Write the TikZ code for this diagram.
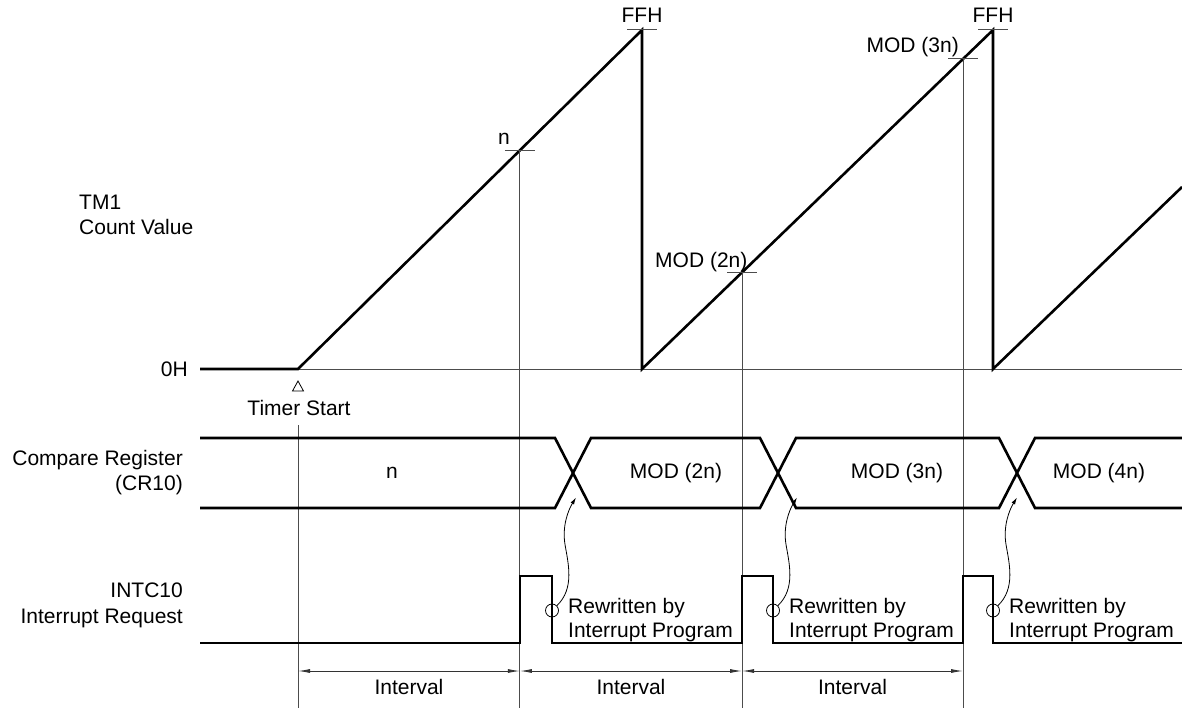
\documentclass[tikz,border=0pt]{standalone}
\usepackage{fontspec}
\setmainfont{Liberation Sans}
\usetikzlibrary{arrows.meta,calc}
\begin{document}
\begin{tikzpicture}[x=1pt,y=-1pt,
  sig/.style={line width=2.6pt, line join=miter, black},
  guide/.style={line width=0.9pt, black!70},
  tickmark/.style={line width=1pt, black!70},
  lbl/.style={font=\fontsize{21}{25}\selectfont, inner sep=0pt},
  dimline/.style={line width=0.9pt, black!80, {Latex[length=12pt,width=4pt]}-{Latex[length=12pt,width=4pt]}},
  wavy/.style={line width=0.8pt, black, -{Latex[length=7pt,width=4pt]}},
  ring/.style={circle, draw, line width=0.8pt, minimum size=13pt, inner sep=0pt}]
\useasboundingbox (0,0) rectangle (1182,711);
% key coordinates
\coordinate (s0) at (200,369);
\coordinate (t0) at (298,369);
\coordinate (p1) at (642,30);
\coordinate (b1) at (642,369);
\coordinate (p2) at (993,30);
\coordinate (b2) at (993,369);
\coordinate (e3) at (1182,187);
\coordinate (bend) at (1182,369);
\coordinate (bot) at (0,708);
\coordinate (kn) at ($(t0)!0.645!(p1)$);
\coordinate (k2) at ($(b1)!0.285!(p2)$);
\coordinate (k3) at ($(b1)!0.9145!(p2)$);
% baseline (thin) and count value (thick)
\draw[guide] (t0) -- (bend);
\draw[sig] (s0) -- (t0) -- (p1) -- (b1) -- (p2) -- (b2) -- (e3);
% ticks
\foreach \k in {kn,k2,k3,p1,p2}{
  \draw[tickmark] ($(\k)+(-15,0)$) -- ($(\k)+(15,0)$);
}
\foreach \k in {kn,k2,k3}{
  \draw[guide] (\k) -- (\k |- bot);
}
% timer start
\draw[line width=0.8pt] (298,381) -- (292.5,391) -- (303.5,391) -- cycle;
\node[lbl, anchor=base] (ts) at (299,415) {Timer Start};
\coordinate (tsb) at (298,425);
\draw[guide] (tsb) -- (tsb |- bot);
% value labels
\node[lbl, anchor=base] (lffh1) at (642,23) {FFH};
\node[lbl, anchor=base] (lffh2) at (993,23) {FFH};
\node[lbl, anchor=base] (ln) at (504,145) {n};
\node[lbl, anchor=base west] (lm2) at (655,267) {MOD (2n)};
\node[lbl, anchor=base east] (lm3) at (959,53) {MOD (3n)};
% left labels
\node[lbl, anchor=base west] (tm1) at (79,210) {TM1};
\node[lbl, anchor=base west] (cv) at (79,235) {Count Value};
\node[lbl, anchor=base east] (zh) at (188,376) {0H};
\node[lbl, anchor=base east] (cr) at (183,465) {Compare Register};
\node[lbl, anchor=base east] (cr10) at (183,490) {(CR10)};
\node[lbl, anchor=base east] (intc) at (183,597) {INTC10};
\node[lbl, anchor=base east] (irq) at (183,623) {Interrupt Request};
% compare register bus
\draw[sig] (200,438) -- (555,438) -- (591,508) -- (760,508) -- (796,438) -- (999,438) -- (1035,508) -- (1182,508);
\draw[sig] (200,508) -- (555,508) -- (591,438) -- (760,438) -- (796,508) -- (999,508) -- (1035,438) -- (1182,438);
\node[lbl] (vn) at (392,473) {n};
\node[lbl] (v2) at (676,473) {MOD (2n)};
\node[lbl] (v3) at (897,473) {MOD (3n)};
\node[lbl] (v4) at (1099,473) {MOD (4n)};
% interrupt request
\draw[sig] (200,643) -- (520,643) -- (520,576) -- (552,576) -- (552,643) -- (742,643) -- (742,576) -- (773,576) -- (773,643) -- (963,643) -- (963,576) -- (993,576) -- (993,643) -- (1182,643);
% rewritten annotations
\foreach \i/\x in {1/552,2/773,3/993}{
  \node[ring] (c\i) at (\x,610.5) {};
  \draw[wavy] (c\i.45) .. controls ($(c\i)+(23,-22)$) and ($(c\i)+(16,-48)$) .. ($(c\i)+(13,-66)$)
     .. controls ($(c\i)+(10,-84)$) and ($(c\i)+(16,-100)$) .. ($(c\i)+(24,-113)$);
  \node[lbl, anchor=base west] (rw\i) at (\x+16,613) {Rewritten by};
  \node[lbl, anchor=base west] (ip\i) at (\x+16,637) {Interrupt Program};
}
% intervals
\coordinate (i0) at (298,671);
\coordinate (i1) at (kn |- i0);
\coordinate (i2) at (k2 |- i0);
\coordinate (i3) at (k3 |- i0);
\draw[dimline] (i0) -- (i1);
\draw[dimline] (i1) -- (i2);
\draw[dimline] (i2) -- (i3);
\node[lbl, anchor=base] (iv1) at ($(i0)!0.5!(i1)+(0,23)$) {Interval};
\node[lbl, anchor=base] (iv2) at ($(i1)!0.5!(i2)+(0,23)$) {Interval};
\node[lbl, anchor=base] (iv3) at ($(i2)!0.5!(i3)+(0,23)$) {Interval};
\end{tikzpicture}
\end{document}
